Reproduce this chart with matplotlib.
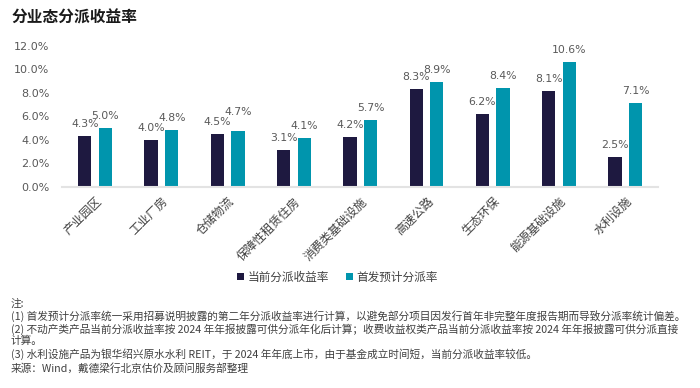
import matplotlib
matplotlib.use('Agg')
import matplotlib.pyplot as plt
import numpy as np
from matplotlib.ticker import FuncFormatter

plt.rcParams['font.family'] = ['Noto Sans CJK SC', 'DejaVu Sans']

# ====================== 数据 ======================
categories = ['产业园区', '工业厂房', '仓储物流', '保障性租赁住房', '消费类基础设施',
              '高速公路', '生态环保', '能源基础设施', '水利设施']
current_yield = [4.3, 4.0, 4.5, 3.1, 4.2, 8.3, 6.2, 8.1, 2.5]
ipo_yield = [5.0, 4.8, 4.7, 4.1, 5.7, 8.9, 8.4, 10.6, 7.1]
series_names = ['当前分派收益率', '首发预计分派率']
yticks = [0, 2, 4, 6, 8, 10, 12]

notes = [
    '注:',
    '(1) 首发预计分派率统一采用招募说明披露的第二年分派收益率进行计算，以避免部分项目因发行首年非完整年度报告期而导致分派率统计偏差。',
    '(2) 不动产类产品当前分派收益率按 2024 年年报披露可供分派年化后计算；收费收益权类产品当前分派收益率按 2024 年年报披露可供分派直接',
    '计算。',
    '(3) 水利设施产品为银华绍兴原水水利 REIT，于 2024 年年底上市，由于基金成立时间短，当前分派收益率较低。',
    '来源：Wind，戴德梁行北京估价及顾问服务部整理',
]

DARK = '#1E1940'
TEAL = '#0095AD'
GRAY = '#595959'

# ====================== 绘图 ======================
fig = plt.figure(figsize=(7, 3.88), dpi=100)
ax = fig.add_axes([0.0886, 0.519, 0.852, 0.3635])

x = np.arange(len(categories))
w = 0.2
off = 0.156
b1 = ax.bar(x - off, current_yield, w, color=DARK, label=series_names[0])
b2 = ax.bar(x + off, ipo_yield, w, color=TEAL, label=series_names[1])

def add_label(rect, extra=0):
    h = rect.get_height()
    ax.annotate(f'{h:.1f}%', (rect.get_x() + rect.get_width() / 2, h),
                xytext=(0, 5 + extra), textcoords='offset points',
                ha='center', va='bottom', fontsize=7.8, color=GRAY,
                family='DejaVu Sans')

for r1, r2 in zip(b1, b2):
    add_label(r1)
    # 两个数值太接近时把首发标签抬高一点，避免重叠
    gap = r2.get_height() - r1.get_height()
    add_label(r2, extra=5 if gap < 0.5 else 0)

ax.set_xlim(-0.5, len(categories) - 0.5)
ax.set_ylim(0, 12)
ax.set_yticks(yticks)
ax.yaxis.set_major_formatter(FuncFormatter(lambda v, p: f'{v:.1f}%'))
for lab in ax.get_yticklabels():
    lab.set_family('DejaVu Sans')
ax.tick_params(axis='y', length=0, pad=9, labelsize=8, labelcolor=GRAY)
ax.set_xticks(x)
ax.set_xticklabels(categories, rotation=45, ha='right', va='top',
                   rotation_mode='anchor', fontsize=8.6, color='#404040')
ax.tick_params(axis='x', length=0, pad=6)

for s in ['top', 'right', 'left']:
    ax.spines[s].set_visible(False)
ax.spines['bottom'].set_color('#e3e3e3')
ax.spines['bottom'].set_linewidth(1.5)

leg = fig.legend(loc='center', bbox_to_anchor=(0.482, 0.286), ncol=2, frameon=False,
                 fontsize=8.4, handlelength=0.55, handleheight=0.55, handletextpad=0.3,
                 columnspacing=1.5)
for t in leg.get_texts():
    t.set_color('#404040')

fig.text(0.017, 0.955, '分业态分派收益率', fontsize=11.3, fontweight='bold',
         color='#1a1a1a', va='center', ha='left')

ys = [304, 316, 329, 341, 354, 368]
for line, yy in zip(notes, ys):
    fig.text(11 / 700, 1 - yy / 388, line, fontsize=7.7, color='#404040',
             va='center', ha='left')

fig.savefig('out.png', dpi=100)
